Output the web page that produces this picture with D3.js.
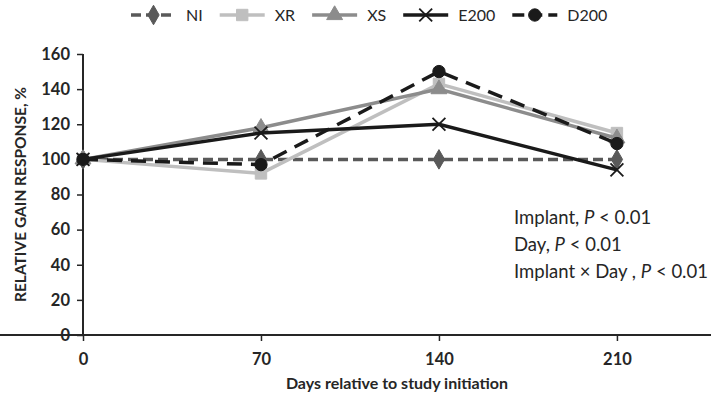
<!DOCTYPE html>
<html>
<head>
<meta charset="utf-8">
<script src="https://cdn.jsdelivr.net/npm/d3@7"></script>
<style>
  body { margin: 0; background: #fff; }
  svg { font-family: Lato, 'Open Sans', sans-serif; }
</style>
</head>
<body>
<div id="chart"></div>
<script>
// data
const days = [0, 70, 140, 210];
const niValues = [100, 100, 100, 100];
const xrValues = [100, 92, 143, 115];
const xsValues = [100, 118, 140, 112];
const e200Values = [100, 115, 120, 94];
const d200Values = [100, 97, 150, 109];
const yTicks = [0, 20, 40, 60, 80, 100, 120, 140, 160];
const seriesNames = ['NI', 'XR', 'XS', 'E200', 'D200'];
const notes = ['Implant, ', 'Day, ', 'Implant \u00d7 Day , '];

const width = 711;
const height = 400;

const series = [
  { name: 'NI', values: niValues, color: '#595959', dash: '10,5', symbol: d3.symbolDiamond, size: 110, fill: true },
  { name: 'XR', values: xrValues, color: '#bfbfbf', dash: null, symbol: d3.symbolSquare, size: 130, fill: true },
  { name: 'XS', values: xsValues, color: '#8c8c8c', dash: null, symbol: d3.symbolTriangle, size: 110, fill: true },
  { name: 'E200', values: e200Values, color: '#1a1a1a', dash: null, symbol: d3.symbolX, size: 110, fill: false },
  { name: 'D200', values: d200Values, color: '#1a1a1a', dash: '15,9', symbol: d3.symbolCircle, size: 120, fill: true }
];

const svg = d3.select('#chart').append('svg')
  .attr('width', width)
  .attr('height', height);

const xScale = d3.scaleLinear().domain([0, 247]).range([83, 711]);
const yScale = d3.scaleLinear().domain([0, 160]).range([335, 54]);

// axes
const xAxis = d3.axisBottom(xScale).tickValues(days).tickSize(6).tickPadding(12).tickSizeOuter(0);
const yAxis = d3.axisLeft(yScale).tickValues(yTicks).tickSize(6).tickPadding(7).tickSizeOuter(0);

const gx = svg.append('g')
  .attr('transform', `translate(0, ${yScale(0)})`)
  .call(xAxis);
const gy = svg.append('g')
  .attr('transform', `translate(${xScale(0)}, 0)`)
  .call(yAxis);

[gx, gy].forEach(g => {
  g.select('.domain').attr('stroke', '#262626').attr('stroke-width', 2);
  g.selectAll('.tick line').attr('stroke', '#262626').attr('stroke-width', 1.5);
  g.selectAll('.tick text')
    .attr('fill', '#262626')
    .style('font-size', '16.5px')
    .style('font-weight', 'bold')
    .style('font-family', 'Lato, sans-serif');
});
gy.select('.domain').attr('d', `M0,${yScale(0)}V${yScale(160)}`);
gx.select('.domain').attr('d', `M0,0H${width}`);

// axis titles
svg.append('text')
  .attr('x', (xScale(0) + width) / 2)
  .attr('y', 389)
  .attr('text-anchor', 'middle')
  .style('font-size', '16px')
  .style('font-weight', 'bold')
  .attr('fill', '#262626')
  .text('Days relative to study initiation');

svg.append('text')
  .attr('transform', `translate(26, ${(yScale(0) + yScale(160)) / 2}) rotate(-90)`)
  .attr('text-anchor', 'middle')
  .style('font-size', '15.5px')
  .style('font-weight', 'bold')
  .attr('fill', '#262626')
  .text('RELATIVE GAIN RESPONSE, %');

// lines + markers
const line = d3.line()
  .x((d, i) => xScale(days[i]))
  .y(d => yScale(d));

series.forEach(s => {
  const g = svg.append('g').attr('class', 'series');
  g.append('path')
    .datum(s.values)
    .attr('fill', 'none')
    .attr('stroke', s.color)
    .attr('stroke-width', 3.5)
    .attr('stroke-dasharray', s.dash)
    .attr('d', line);

  g.selectAll('.mark')
    .data(s.values)
    .enter()
    .append('path')
    .attr('class', 'mark')
    .attr('transform', (d, i) => `translate(${xScale(days[i])}, ${yScale(d)})`)
    .attr('d', d3.symbol().type(s.symbol).size(s.size))
    .attr('fill', s.fill ? s.color : 'none')
    .attr('stroke', s.color)
    .attr('stroke-width', s.fill ? 1 : 1.8);
});

// legend
const legend = svg.append('g').attr('class', 'legend');
let lx = 131;
seriesNames.forEach(name => {
  const s = series.find(d => d.name === name);
  const item = legend.append('g').attr('transform', `translate(${lx}, 15)`);
  item.append('line')
    .attr('x1', 0).attr('x2', 45)
    .attr('stroke', s.color)
    .attr('stroke-width', 3.5)
    .attr('stroke-dasharray', s.dash ? (name === 'NI' ? '10,5' : '12,6') : null);
  item.append('path')
    .attr('transform', 'translate(22.5, 0)')
    .attr('d', d3.symbol().type(s.symbol).size(s.size))
    .attr('fill', s.fill ? s.color : 'none')
    .attr('stroke', s.color)
    .attr('stroke-width', s.fill ? 1 : 1.8);
  const t = item.append('text')
    .attr('x', 55)
    .attr('dy', '0.35em')
    .style('font-size', '16px')
    .attr('fill', '#262626')
    .text(name);
  lx += 55 + t.node().getComputedTextLength() + 17;
});

// statistics note
const note = svg.append('g').attr('class', 'note');
notes.forEach((n, i) => {
  const t = note.append('text')
    .attr('x', 514)
    .attr('y', 224 + i * 27)
    .style('font-size', '18.5px')
    .attr('fill', '#262626');
  t.append('tspan').text(n);
  t.append('tspan').style('font-style', 'italic').text('P');
  t.append('tspan').text(' < 0.01');
});
</script>
</body>
</html>
